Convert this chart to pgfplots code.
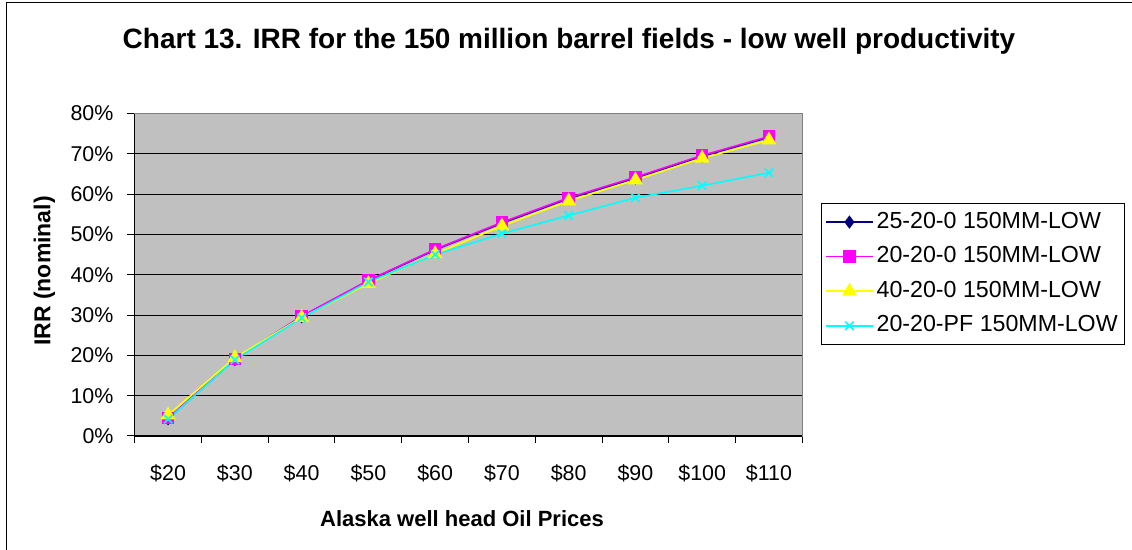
\documentclass[border=0pt]{standalone}
\usepackage{fontspec}
\setmainfont{Liberation Sans}
\usepackage{pgfplots}
\pgfplotsset{compat=1.18}
\definecolor{plotgray}{HTML}{C0C0C0}
\definecolor{framegray}{HTML}{808080}
\definecolor{navyc}{HTML}{000080}
\definecolor{magc}{HTML}{FF00FF}
\definecolor{yelc}{HTML}{FFFF00}
\definecolor{cyanc}{HTML}{00FFFF}
\begin{document}
\begin{tikzpicture}
\useasboundingbox (0pt,0pt) rectangle (566pt,-275pt);
\draw[black, line width=0.6pt] (3.15pt,-276pt) -- (3.15pt,-1.4pt) -- (567pt,-1.4pt);
\begin{axis}[
  at={(67.35pt,-218pt)}, anchor=south west,
  scale only axis, width=333.8pt, height=161.25pt,
  xmin=-0.5, xmax=9.5, ymin=0, ymax=80,
  axis background/.style={fill=plotgray},
  axis line style={framegray, line width=0.7pt},
  xtick={0,...,9},
  xticklabels={\$20,\$30,\$40,\$50,\$60,\$70,\$80,\$90,\$100,\$110},
  minor xtick={-0.5,0.5,...,9.5},
  ytick={0,10,...,80},
  yticklabel={\pgfmathprintnumber{\tick}\%},
  /pgf/number format/assume math mode=true,
  xtick pos=bottom, ytick pos=left,
  tick align=outside,
  major x tick style={draw=none},
  minor x tick style={black, line width=0.5pt},
  major y tick style={black, line width=0.5pt},
  major tick length=3.6pt, minor tick length=3.6pt,
  ymajorgrids, major grid style={black, line width=0.5pt},
  xticklabel style={font=\fontsize{10.7}{12}\selectfont, anchor=center, yshift=-15pt},
  yticklabel style={font=\fontsize{10.7}{12}\selectfont, anchor=east, xshift=-3.5pt},
  legend style={at={(rel axis cs:1.0276,0.7216)}, anchor=north west,
    draw=black, line width=0.5pt, fill=white, inner xsep=2pt, inner ysep=0.5pt,
    font=\fontsize{11.6}{13}\selectfont,
    nodes={inner ysep=3.1pt, inner xsep=1.5pt, text height=8.6pt, text depth=2.5pt}},
  legend cell align=left,
  legend image code/.code={\draw[mark repeat=2,mark phase=2,#1] plot coordinates {(0pt,0pt) (11.7pt,0pt) (23.4pt,0pt)};},
  clip=false,
]
\addplot[navyc, line width=0.8pt, mark=diamond*, mark size=2.7pt, mark options={solid}] coordinates {
(0,4.3) (1,19.0) (2,29.6) (3,38.5) (4,46.2) (5,52.8) (6,58.9) (7,64.0) (8,69.4) (9,74.1)};
\addlegendentry{25-20-0 150MM-LOW}
\addplot[magc, line width=0.8pt, mark=square*, mark size=2.7pt] coordinates {
(0,4.4) (1,19.1) (2,29.7) (3,38.6) (4,46.3) (5,53.0) (6,59.1) (7,64.2) (8,69.6) (9,74.3)};
\addlegendentry{20-20-0 150MM-LOW}
\addplot[yelc, line width=0.8pt, mark=triangle*, mark size=3.5pt] coordinates {
(0,5.2) (1,19.4) (2,29.4) (3,37.8) (4,45.2) (5,52.1) (6,58.3) (7,63.5) (8,68.9) (9,73.4)};
\addlegendentry{40-20-0 150MM-LOW}
\addplot[cyanc, line width=0.8pt, mark=x, mark size=3pt] coordinates {
(0,4.2) (1,18.9) (2,29.3) (3,38.2) (4,45.0) (5,50.2) (6,54.7) (7,59.1) (8,62.1) (9,65.3)};
\addlegendentry{20-20-PF 150MM-LOW}
\draw[black, line width=0.7pt] (rel axis cs:0,1) -- (rel axis cs:0,0) -- (rel axis cs:1,0);
\end{axis}
\node[anchor=base, font=\bfseries\fontsize{14}{16}\selectfont] at (284.5pt,-24.5pt) {Chart 13. IRR for the 150 million barrel fields - low well productivity};
\node[rotate=90, font=\bfseries\fontsize{11.5}{13}\selectfont] at (22.25pt,-135.5pt) {IRR (nominal)};
\node[font=\bfseries\fontsize{11}{13}\selectfont] at (231pt,-259.5pt) {Alaska well head Oil Prices};
\end{tikzpicture}
\end{document}
